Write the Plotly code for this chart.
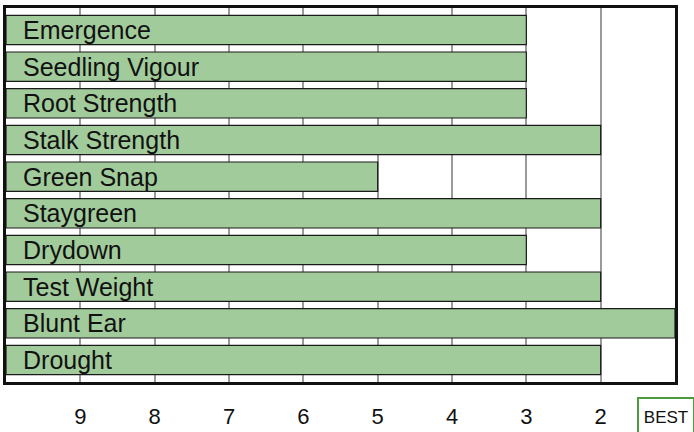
import plotly.graph_objects as go

# Trait ratings: 1 = best, 9 = worst; bars run from the worst end (10) to the score
traits = ["Emergence", "Seedling Vigour", "Root Strength", "Stalk Strength",
          "Green Snap", "Staygreen", "Drydown", "Test Weight", "Blunt Ear", "Drought"]
scores = [3, 3, 3, 2, 5, 2, 3, 2, 1, 2]
tick_values = [9, 8, 7, 6, 5, 4, 3, 2]
tick_labels = ["9", "8", "7", "6", "5", "4", "3", "2"]

SCALE_START = 10
FONT = "Liberation Sans, Arial, Helvetica, sans-serif"

fig = go.Figure(
    go.Bar(
        y=traits,
        x=[s - SCALE_START for s in scores],
        base=[SCALE_START] * len(scores),
        orientation="h",
        width=0.8,
        marker=dict(color="#a2cb9b", line=dict(color="#1a1a1a", width=1.2)),
        hovertext=[f"{t}: {s}" for t, s in zip(traits, scores)],
        hoverinfo="text",
    )
)

# Trait names drawn inside the bars, near the left edge
for t in traits:
    fig.add_annotation(
        x=SCALE_START, y=t, xref="x", yref="y",
        text=t, showarrow=False, xanchor="left", yanchor="middle",
        xshift=15, yshift=0,
        font=dict(family=FONT, size=25, color="#111111"),
    )

# "BEST" marker at the best end of the scale
fig.add_annotation(
    x=0.9865, y=-0.094, xref="paper", yref="paper",
    text="BEST", showarrow=False, xanchor="center", yanchor="middle",
    width=54, height=36,
    bordercolor="#4c9a3c", borderwidth=2, borderpad=0,
    bgcolor="white",
    font=dict(family=FONT, size=17, color="#111111"),
)

fig.update_xaxes(
    range=[SCALE_START, 1],
    tickvals=tick_values, ticktext=tick_labels,
    showgrid=True, gridcolor="#9a9a9a", gridwidth=1.5,
    zeroline=False,
    showline=True, linecolor="#111111", linewidth=3, mirror=True,
    ticks="outside", ticklen=13, tickcolor="rgba(0,0,0,0)",
    tickfont=dict(family=FONT, size=22, color="#111111"),
    automargin=False,
    fixedrange=True,
)
fig.update_yaxes(
    categoryorder="array", categoryarray=traits,
    range=[len(traits) - 0.4, -0.6],
    showticklabels=False, showgrid=False, zeroline=False,
    showline=True, linecolor="#111111", linewidth=3, mirror=True,
    automargin=False,
    fixedrange=True,
)

fig.update_layout(
    width=694, height=432,
    margin=dict(l=6, r=19, t=8, b=50),
    paper_bgcolor="white", plot_bgcolor="white",
    showlegend=False,
    bargap=0.2,
)

fig.write_html("out.html")
